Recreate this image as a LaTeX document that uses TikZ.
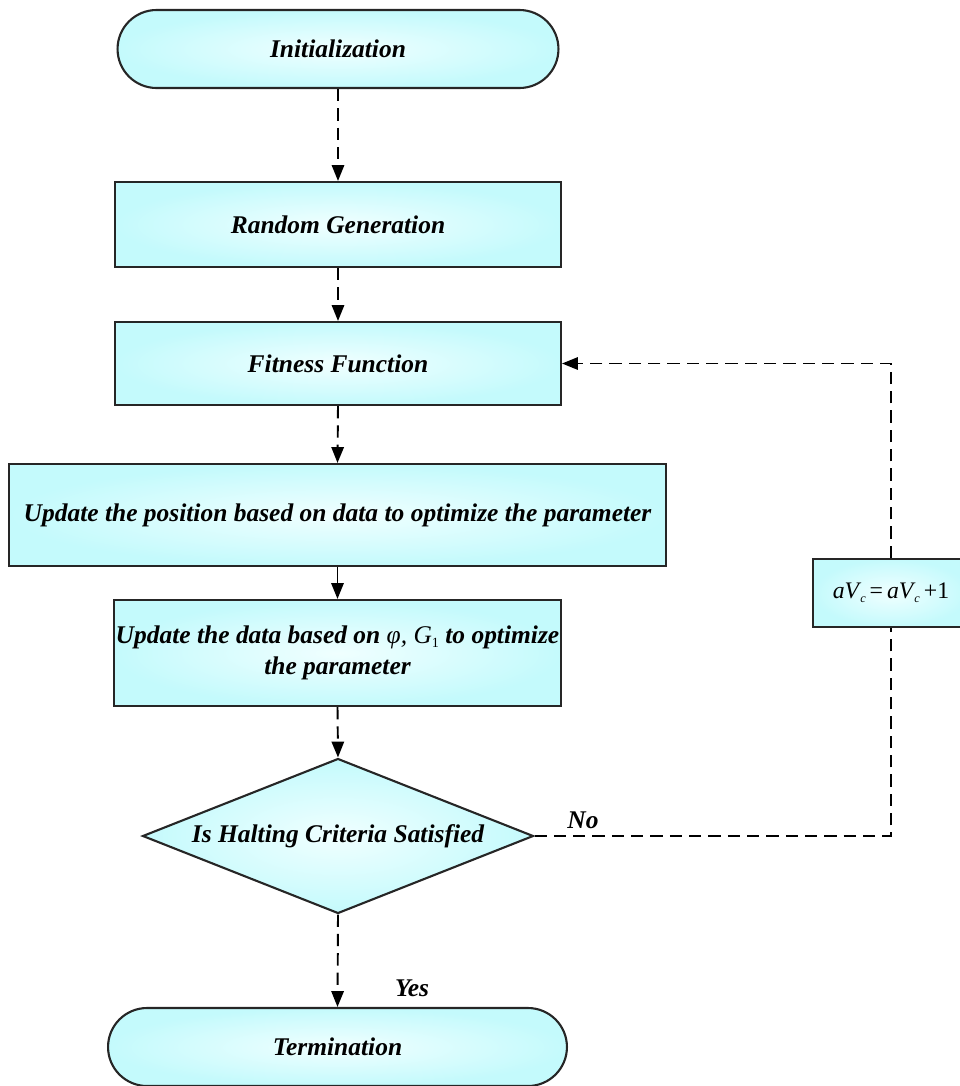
\documentclass[tikz,border=0pt]{standalone}
\usepackage{fontspec}
\setmainfont{Liberation Serif}
\usetikzlibrary{shapes.geometric,arrows.meta}
\definecolor{boxin}{RGB}{240,255,255}
\definecolor{boxout}{RGB}{196,250,252}
\newcommand{\myavc}{\textit{aV}\kern-0.05em\raisebox{-0.35ex}{\scriptsize\textit{c}}}
\begin{document}
\begin{tikzpicture}[x=0.02cm,y=-0.02cm,
  every node/.style={font=\fontsize{14.5}{18}\selectfont\bfseries\itshape},
  flowbox/.style={draw=black!85,line width=1.2pt,inner color=boxin,outer color=boxout,
     rectangle,inner sep=0pt,align=center},
  termbox/.style={flowbox,rounded corners=0.78cm},
  decbox/.style={draw=black!85,line width=1.2pt,inner color=boxin,outer color=boxout,
     diamond,aspect=2.52,inner sep=0pt,align=center},
  conn/.style={line width=1.1pt,-{Triangle[length=9pt,width=7pt]}},
  dconn/.style={conn,dash pattern=on 7pt off 4pt},
  dline/.style={line width=1.1pt,dash pattern=on 7pt off 4pt},
  lbl/.style={inner sep=0pt}
]
\useasboundingbox (0,0) rectangle (960,1086);

\node[termbox,minimum width=8.82cm,minimum height=1.56cm] (init) at (338,49) {Initialization};
\node[flowbox,minimum width=8.92cm,minimum height=1.7cm] (rand) at (338,224.5) {Random Generation};
\node[flowbox,minimum width=8.92cm,minimum height=1.66cm] (fit) at (338,363.5) {Fitness Function};
\node[flowbox,minimum width=13.14cm,minimum height=2.04cm] (upos) at (337.5,515) {Update the position based on data to optimize the parameter};
\node[flowbox,minimum width=8.94cm,minimum height=2.12cm] (udata) at (337.5,653)
  {Update the data based on {\mdseries\textit{φ}, \textit{G}\raisebox{-0.35ex}{\footnotesize\upshape 1}} to optimize\\ the parameter};
\node[decbox,minimum width=7.82cm,minimum height=3.1cm] (dia) at (338,836) {Is Halting Criteria Satisfied};
\node[flowbox,minimum width=3.12cm,minimum height=1.36cm,font=\fontsize{13.5}{18}\selectfont] (form) at (891,593)
  {\myavc\,=\,\myavc\,+1};
\node[termbox,minimum width=9.18cm,minimum height=1.56cm] (term) at (337.5,1047) {Termination};

\draw[dconn] (init.south) -- (rand.north);
\draw[dconn] (rand.south) -- (fit.north);
\draw[dconn] (fit.south) -- (upos.north);
\draw[conn] (upos.south) -- (udata.north);
\draw[dconn] (udata.south) -- (dia.north);
\draw[dconn] (dia.south) -- (term.north);

\coordinate (corner) at (dia.east -| form.south);
\draw[dline] (dia.east) -- (corner) -- (form.south);
\draw[dconn] (form.north) |- (fit.east);

\node[lbl] (no) at (583,820) {No};
\node[lbl] (yes) at (412,988) {Yes};
\end{tikzpicture}
\end{document}
